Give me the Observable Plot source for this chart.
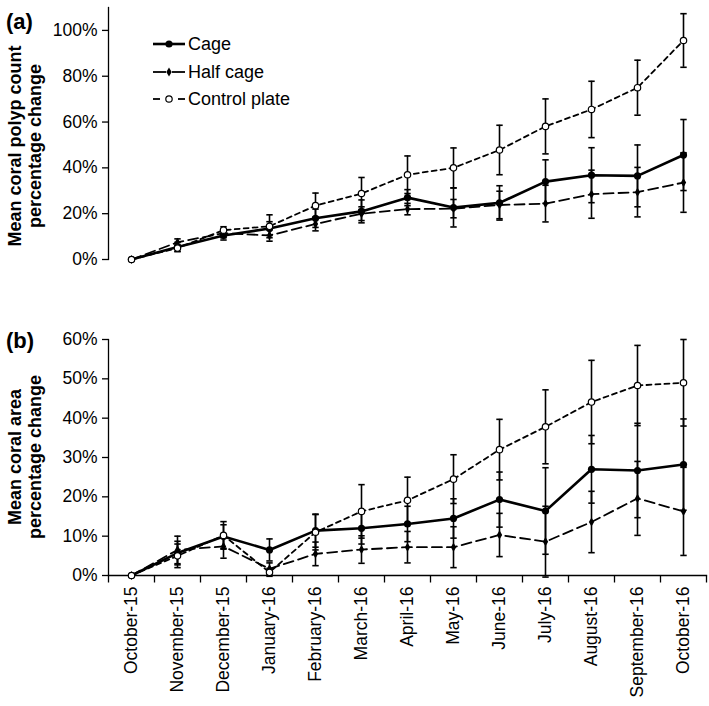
<!DOCTYPE html>
<html><head><meta charset="utf-8">
<script src="https://cdn.jsdelivr.net/npm/d3@7"></script>
<script src="https://cdn.jsdelivr.net/npm/@observablehq/plot@0.6"></script>
<style>
body{margin:0;background:#fff;font-family:"Liberation Sans",Arial,sans-serif;}
#wrap{position:relative;width:709px;height:706px;overflow:hidden;background:#fff;}
#wrap svg{position:absolute;left:0;}
.ytitle{position:absolute;font-weight:bold;font-size:18px;line-height:19.5px;text-align:center;white-space:nowrap;transform:translate(-50%,-50%) rotate(-90deg);color:#000;}
.plabel{position:absolute;font-weight:bold;font-size:22px;color:#000;}
</style></head><body><div id="wrap"></div>
<script>
const months = ["October-15","November-15","December-15","January-16","February-16","March-16","April-16","May-16","June-16","July-16","August-16","September-16","October-16"];
const seriesNames = ["Cage","Half cage","Control plate"];

// (a) Mean coral polyp count percentage change (%)
const polypCage    = [0, 5.5, 10.5, 13.5, 18, 21, 27, 22.7, 24.7, 34, 36.8, 36.5, 45.6];
const polypHalf    = [0, 7.5, 11.5, 10.5, 15.5, 20, 22, 22.2, 23.8, 24.4, 28.5, 29.4, 33.6];
const polypControl = [0, 5, 12.8, 14.5, 23.5, 28.8, 37, 40, 47.8, 58.1, 65.5, 75, 95.6];
const polypCageErr    = [0, 2, 2, 3, 4, 5, 3.5, 8.5, 7.5, 9.5, 12, 13.5, 15.5];
const polypHalfErr    = [0, 1.5, 2, 2.5, 3, 3, 2.5, 4, 6, 8, 10.5, 10.8, 13];
const polypControlErr = [0, 1.5, 1.5, 5, 5.5, 7, 8.2, 8.7, 10.8, 12, 12.3, 12, 11.7];

// (b) Mean coral area percentage change (%)
const areaCage    = [0, 5.7, 9.9, 6.5, 11.4, 12, 13.1, 14.5, 19.3, 16.4, 27, 26.7, 28.2];
const areaHalf    = [0, 6.5, 7.4, 1.7, 5.5, 6.6, 7.2, 7.2, 10.3, 8.6, 13.6, 19.6, 16.3];
const areaControl = [0, 5, 10.2, 0.8, 11, 16.3, 19.1, 24.5, 32, 37.8, 44.1, 48.3, 49];
const areaCageErr    = [0, 3, 3, 2.8, 4.2, 4, 4.5, 5, 7, 11, 8.6, 12, 11.6];
const areaHalfErr    = [0, 3.5, 3, 1.5, 3, 3.5, 4, 5.2, 5.5, 9, 7.8, 9.4, 11.2];
const areaControlErr = [0, 3, 3.5, 1, 4.5, 6.8, 5.9, 6.2, 7.7, 9.4, 10.6, 10.2, 11];

const polypTicks = [0, 20, 40, 60, 80, 100];
const areaTicks = [0, 10, 20, 30, 40, 50, 60];

function rows(vals, errs, name) {
  return vals.map((v, i) => ({i, month: months[i], series: name, v, e: errs[i]}));
}
const polypData = [
  ...rows(polypCage, polypCageErr, seriesNames[0]),
  ...rows(polypHalf, polypHalfErr, seriesNames[1]),
  ...rows(polypControl, polypControlErr, seriesNames[2])
];
const areaData = [
  ...rows(areaCage, areaCageErr, seriesNames[0]),
  ...rows(areaHalf, areaHalfErr, seriesNames[1]),
  ...rows(areaControl, areaControlErr, seriesNames[2])
];

const capSymbol = {draw(ctx) { ctx.moveTo(-3.2, 0); ctx.lineTo(3.2, 0); }};
const tickSymbol = {draw(ctx) { ctx.moveTo(0, 0); ctx.lineTo(0, 7); }};

function panel(data, {yMax, yTicks, height, marginTop, marginBottom, showX}) {
  const err = data.filter(d => d.e > 0);
  const cage = data.filter(d => d.series === seriesNames[0]);
  const half = data.filter(d => d.series === seriesNames[1]);
  const ctrl = data.filter(d => d.series === seriesNames[2]);
  const marks = [
    Plot.frame({anchor: "left", stroke: "black", strokeWidth: 1.3}),
    Plot.axisY({ticks: yTicks, tickFormat: d => d + "%", tickSize: 6, tickPadding: 5, label: null, stroke: "black", strokeWidth: 1.3})
  ];
  if (showX) {
    marks.push(
      Plot.frame({anchor: "bottom", stroke: "black", strokeWidth: 1.3}),
      Plot.dot(d3.range(months.length + 1), {x: k => k - 0.5, y: 0, symbol: tickSymbol, fill: "none", stroke: "black", strokeWidth: 1.3}),
      Plot.axisX({ticks: d3.range(months.length), tickFormat: i => months[i], tickRotate: -90, tickSize: 0, tickPadding: 11, label: null})
    );
  }
  marks.push(
    Plot.ruleX(err, {x: "i", y1: d => d.v - d.e, y2: d => d.v + d.e, stroke: "black", strokeWidth: 1.6}),
    Plot.dot(err, {x: "i", y: d => d.v + d.e, symbol: capSymbol, fill: "none", stroke: "black", strokeWidth: 1.6}),
    Plot.dot(err, {x: "i", y: d => d.v - d.e, symbol: capSymbol, fill: "none", stroke: "black", strokeWidth: 1.6}),
    Plot.line(ctrl, {x: "i", y: "v", stroke: "black", strokeWidth: 1.8, strokeDasharray: "5,4"}),
    Plot.line(half, {x: "i", y: "v", stroke: "black", strokeWidth: 1.8, strokeDasharray: "10,5"}),
    Plot.line(cage, {x: "i", y: "v", stroke: "black", strokeWidth: 2.6}),
    Plot.dot(cage, {x: "i", y: "v", r: 3.6, fill: "black", stroke: "none"}),
    Plot.dot(half, {x: "i", y: "v", r: 2.8, symbol: "diamond", fill: "black", stroke: "none"}),
    Plot.dot(ctrl, {x: "i", y: "v", r: 3.2, fill: "white", stroke: "black", strokeWidth: 1.2})
  );
  return Plot.plot({
    width: 709, height, marginLeft: 108, marginRight: 3, marginTop, marginBottom,
    x: {type: "linear", domain: [-0.5, months.length - 0.5], axis: showX ? undefined : null},
    y: {domain: [0, yMax]},
    style: {fontSize: "17.5px", fontFamily: "'Liberation Sans', Arial, sans-serif", color: "black", background: "white", overflow: "visible"},
    marks
  });
}

const wrap = document.getElementById("wrap");
const topPanel = panel(polypData, {yMax: 110, yTicks: polypTicks, height: 290, marginTop: 7, marginBottom: 31, showX: false});
topPanel.style.top = "0px";
wrap.appendChild(topPanel);
const botPanel = panel(areaData, {yMax: 60, yTicks: areaTicks, height: 416, marginTop: 49, marginBottom: 131, showX: true});
botPanel.style.top = "290px";
wrap.appendChild(botPanel);

// legend
const leg = d3.create("svg").attr("width", 320).attr("height", 120)
  .style("position", "absolute").style("left", "0px").style("top", "0px")
  .style("font-family", "'Liberation Sans', Arial, sans-serif").style("font-size", "18px");
const ly = [44, 72, 99];
leg.append("line").attr("x1", 153).attr("x2", 185).attr("y1", ly[0]).attr("y2", ly[0]).attr("stroke", "black").attr("stroke-width", 2.6);
leg.append("circle").attr("cx", 169).attr("cy", ly[0]).attr("r", 3.6).attr("fill", "black");
leg.append("line").attr("x1", 153).attr("x2", 166).attr("y1", ly[1]).attr("y2", ly[1]).attr("stroke", "black").attr("stroke-width", 1.8);
leg.append("line").attr("x1", 172).attr("x2", 185).attr("y1", ly[1]).attr("y2", ly[1]).attr("stroke", "black").attr("stroke-width", 1.8);
leg.append("path").attr("transform", `translate(169,${ly[1]})`).attr("d", d3.symbol(d3.symbolDiamond, 2.8 * 2.8 * Math.PI)()).attr("fill", "black");
leg.append("line").attr("x1", 153).attr("x2", 160).attr("y1", ly[2]).attr("y2", ly[2]).attr("stroke", "black").attr("stroke-width", 1.8);
leg.append("line").attr("x1", 178).attr("x2", 185).attr("y1", ly[2]).attr("y2", ly[2]).attr("stroke", "black").attr("stroke-width", 1.8);
leg.append("circle").attr("cx", 169).attr("cy", ly[2]).attr("r", 3.2).attr("fill", "white").attr("stroke", "black").attr("stroke-width", 1.2);
seriesNames.forEach((s, k) => {
  leg.append("text").attr("x", 188).attr("y", ly[k]).attr("dy", "0.35em").attr("fill", "black").text(s);
});
wrap.appendChild(leg.node());

function addDiv(cls, html, left, topPx) {
  const d = document.createElement("div");
  d.className = cls; d.innerHTML = html;
  d.style.left = left + "px"; d.style.top = topPx + "px";
  wrap.appendChild(d);
}
addDiv("ytitle", "Mean coral polyp count<br>percentage change", 25, 146);
addDiv("ytitle", "Mean coral area<br>percentage change", 25, 457);
addDiv("plabel", "(a)", 6, 9);
addDiv("plabel", "(b)", 6, 328);
</script></body></html>
